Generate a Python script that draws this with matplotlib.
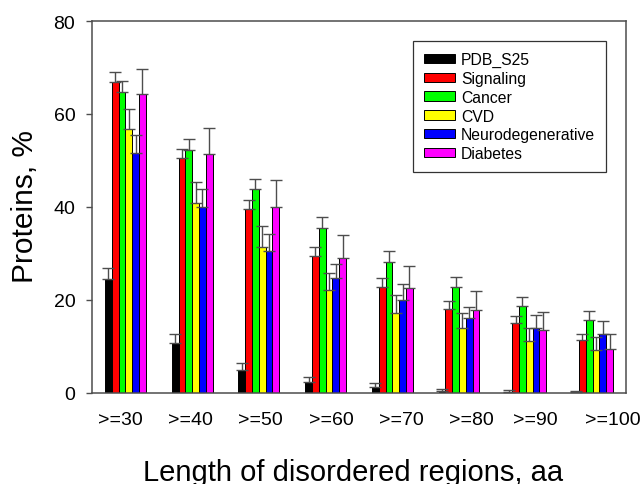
import numpy as np
import matplotlib
matplotlib.use("Agg")
import matplotlib.pyplot as plt

plt.rcParams['font.family'] = ['Liberation Sans', 'DejaVu Sans']

categories = [">=30", ">=40", ">=50", ">=60", ">=70", ">=80", ">=90", ">=100"]
series = ["PDB_S25", "Signaling", "Cancer", "CVD", "Neurodegenerative", "Diabetes"]
colors = ["black", "red", "#00ff00", "yellow", "blue", "magenta"]

pdb = [24.4, 10.8, 4.8, 2.4, 1.25, 0.4, 0.2, 0.2]
signaling = [66.9, 50.6, 39.5, 29.4, 22.8, 18.1, 15.1, 11.3]
cancer = [64.8, 52.2, 43.8, 35.5, 28.2, 22.8, 18.7, 15.7]
cvd = [56.8, 40.8, 31.4, 22.1, 17.2, 13.9, 11.2, 9.2]
neuro = [51.7, 40.0, 30.6, 24.6, 20.0, 16.0, 13.9, 12.6]
diabetes = [64.4, 51.3, 40.0, 29.1, 22.6, 17.7, 13.4, 9.5]

# upper error bar sizes
pdb_err = [2.5, 1.8, 1.5, 1.0, 0.75, 0.5, 0.4, 0.2]
signaling_err = [2.1, 1.9, 2.0, 2.0, 1.8, 1.6, 1.4, 1.3]
cancer_err = [2.3, 2.3, 2.3, 2.3, 2.2, 2.1, 1.8, 1.8]
cvd_err = [4.3, 4.5, 4.5, 3.7, 3.8, 3.2, 2.7, 2.8]
neuro_err = [3.8, 3.8, 3.5, 3.2, 3.3, 2.5, 2.9, 2.8]
diabetes_err = [5.3, 5.7, 5.8, 4.9, 4.7, 4.1, 4.0, 3.2]

values = [pdb, signaling, cancer, cvd, neuro, diabetes]
errors = [pdb_err, signaling_err, cancer_err, cvd_err, neuro_err, diabetes_err]

# tick labels in the original sit slightly right of the groups
label_pos = [-0.07, 0.97, 2.03, 3.08, 4.14, 5.19, 6.15, 7.30]

fig = plt.figure(figsize=(6.44, 4.85), dpi=100)
ax = fig.add_axes([0.1429, 0.1882, 0.829, 0.7664])

x = np.arange(len(categories))
w = 0.102
for i, (name, vals, err, col) in enumerate(zip(series, values, errors, colors)):
    xs = x + (i - 2.5) * w
    ax.bar(xs, vals, width=w, color=col, edgecolor="black", linewidth=0.7,
           label=name, zorder=2)
    ax.errorbar(xs, vals, yerr=[np.zeros(len(vals)), err], fmt="none",
                ecolor="0.3", elinewidth=1, capsize=4, capthick=1, zorder=3)

ax.set_xlim(-0.5, 7.5)
ax.set_ylim(0, 80)
ax.set_yticks([0, 20, 40, 60, 80])
ax.set_xticks(label_pos)
ax.set_xticklabels(categories)
ax.tick_params(axis="y", labelsize=14, length=4, width=1, color="0.3", pad=8)
ax.tick_params(axis="x", labelsize=14, length=0, pad=13)
for s in ax.spines.values():
    s.set_color("0.3")
    s.set_linewidth(1.1)

ax.set_ylabel("Proteins, %", fontsize=21.5)
ax.yaxis.set_label_coords(-0.126, 0.504, transform=ax.transAxes)
ax.yaxis.label.set_va("center")
ax.set_xlabel("Length of disordered regions, aa", fontsize=21)
ax.xaxis.set_label_coords(0.489, -0.175, transform=ax.transAxes)
ax.xaxis.label.set_va("top")

leg = ax.legend(loc="upper left", bbox_to_anchor=(0.601, 0.946), fontsize=11.3,
                frameon=True, fancybox=False, borderpad=0.7, labelspacing=0.24,
                handlelength=2.0, handleheight=0.55, handletextpad=0.35,
                borderaxespad=0)
leg.get_frame().set_edgecolor("black")
leg.get_frame().set_linewidth(0.9)

fig.savefig("out.png", dpi=100)
